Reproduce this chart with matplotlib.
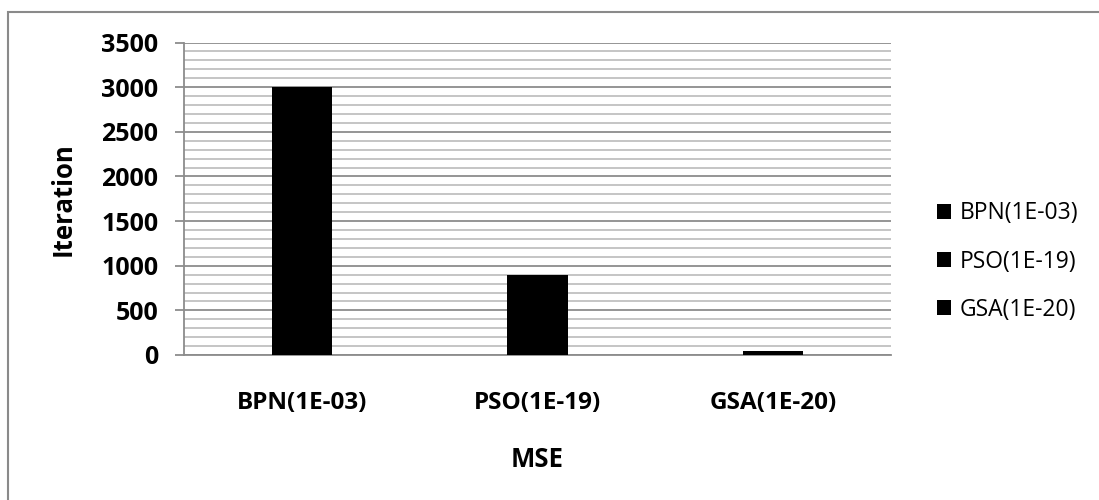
import numpy as np
import matplotlib.pyplot as plt
from matplotlib.patches import Rectangle

plt.rcParams['font.family'] = ['Open Sans', 'DejaVu Sans']

# MSE reached by each method, and iterations needed
methods = ['BPN(1E-03)', 'PSO(1E-19)', 'GSA(1E-20)']
iterations = [3000, 900, 40]

fig = plt.figure(figsize=(10.99, 5.0), dpi=100)
ax = fig.add_axes([0.1674, 0.29, 0.8107 - 0.1674, 0.915 - 0.29])

# chart border (runs off the right and bottom edges)
fig.patches.append(Rectangle((8 / 1099, -0.1), 1.2, 1 - 12 / 500 + 0.1,
                             transform=fig.transFigure, fill=False,
                             edgecolor='#8a8a8a', linewidth=1.5, zorder=0))

x = np.arange(len(methods))
bars = ax.bar(x, iterations, width=0.255, color='black', zorder=3)

ax.set_xlim(-0.5, len(methods) - 0.5)
ax.set_ylim(0, 3500)
ax.set_yticks(np.arange(0, 3501, 500))
ax.set_yticks(np.arange(0, 3501, 100), minor=True)
ax.grid(axis='y', which='minor', color='#c0c0c0', linewidth=1.3, zorder=0)
ax.grid(axis='y', which='major', color='#8c8c8c', linewidth=1.3, zorder=1)
ax.set_axisbelow(True)

for s in ['top', 'right']:
    ax.spines[s].set_visible(False)
for s in ['left', 'bottom']:
    ax.spines[s].set_color('#8c8c8c')
    ax.spines[s].set_linewidth(1.3)

ax.tick_params(axis='y', which='major', length=6.5, width=1.3, color='#8c8c8c',
               labelsize=18, pad=12)
ax.tick_params(axis='y', which='minor', length=0)
ax.tick_params(axis='x', length=0, labelsize=17.5, pad=26)
ax.set_xticks(x)
ax.set_xticklabels(methods, fontweight='bold')
for lbl in ax.get_yticklabels():
    lbl.set_fontweight('bold')

ax.set_ylabel('Iteration', fontsize=18.5, fontweight='bold', labelpad=18)
ax.set_xlabel('MSE', fontsize=18.5, fontweight='bold', labelpad=22)

leg = ax.legend(bars.patches, methods, loc='center left',
                bbox_to_anchor=(0.842, 0.477), bbox_transform=fig.transFigure,
                frameon=False, fontsize=16.5, handlelength=0.6,
                handleheight=0.6, handletextpad=0.4, labelspacing=1.05,
                borderpad=0)

fig.savefig('out.png', dpi=100)
